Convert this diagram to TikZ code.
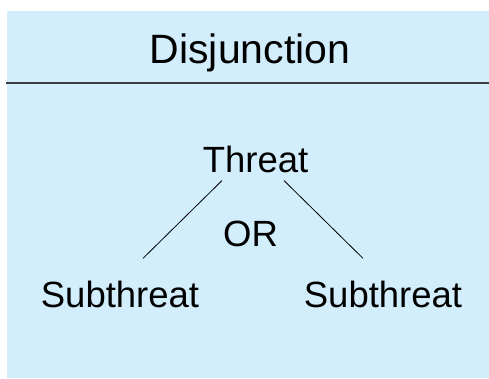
\documentclass[tikz,border=0pt]{standalone}
\usepackage{fontspec}
\setmainfont{Liberation Sans}
\usetikzlibrary{positioning}
\definecolor{panelblue}{RGB}{210,238,252}
\definecolor{rulegray}{RGB}{58,62,66}

\begin{document}
\begin{tikzpicture}[x=1pt,y=-1pt,
										mytitle/.style={inner sep=0pt,anchor=base,font=\fontsize{41}{49}\selectfont},
										mynode/.style={inner sep=0pt,anchor=base,font=\fontsize{36.5}{44}\selectfont}
										]
	\useasboundingbox (0,0) rectangle (489,378);
	\fill[panelblue] (6.7,10.7) rectangle (489,378);
	\draw[rulegray,line width=1.8pt] (6,83.3) -- (489,83.3);

	\node[mytitle] (T) at (250,63) {Disjunction};
	\node[mynode] (Th) at (255.5,172) {Threat};
	\node[mynode] (OR) at (250.5,246) {OR};
	\node[mynode] (S1) at (120,307) {Subthreat};
	\node[mynode] (S2) at (383,307) {Subthreat};
	\path ([xshift=-33.5pt,yshift=-8pt]Th.south) edge[line width=0.8pt] ([xshift=23pt,yshift=22pt]S1.north)
	([xshift=28.5pt,yshift=-8pt]Th.south) edge[line width=0.8pt] ([xshift=-20pt,yshift=22pt]S2.north);

\end{tikzpicture}
\end{document}
